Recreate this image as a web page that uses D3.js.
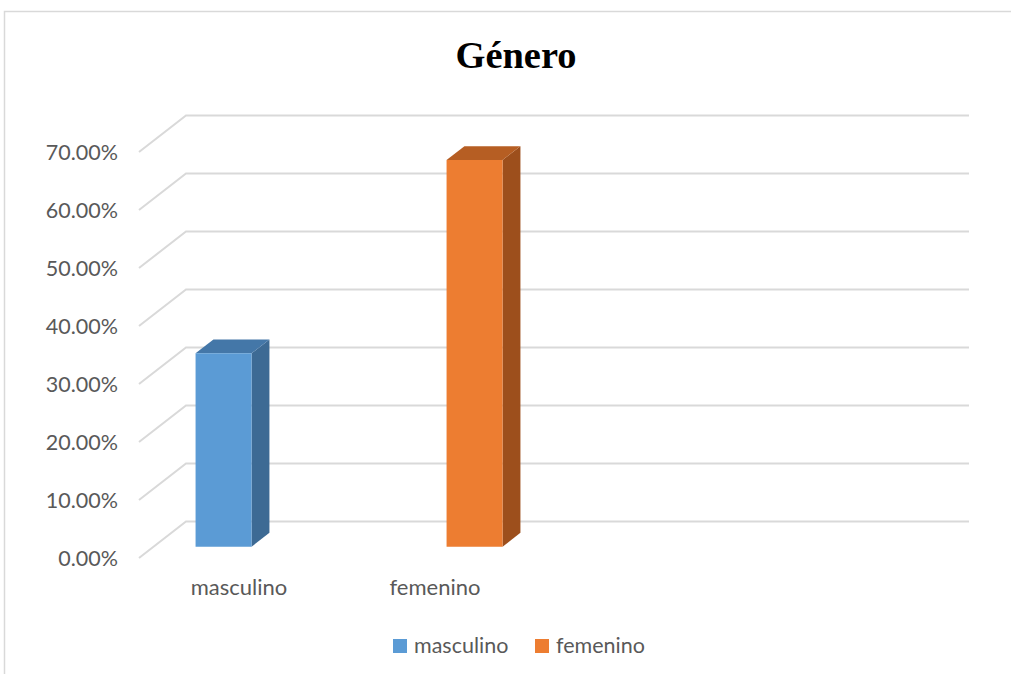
<!DOCTYPE html>
<html>
<head>
<meta charset="utf-8">
<script src="https://cdn.jsdelivr.net/npm/d3@7"></script>
<style>
  html, body { margin: 0; padding: 0; background: #fff; }
  #chart-area { width: 1011px; height: 674px; }
</style>
</head>
<body>
<div id="chart-area"></div>
<script>
// data
const categories = ['masculino', 'femenino'];
const values = [0.3333, 0.6667];
const yTicks = [0, 0.1, 0.2, 0.3, 0.4, 0.5, 0.6, 0.7];
const titleText = 'Género';

const WIDTH = 1011;
const HEIGHT = 674;
const DEPTH = {dx: 47, dy: -36.5};   // floor depth in screen px
const BAR_Z = [0.31, 0.69];          // front and back of bars, fraction of depth
const BAR_W = 56;
const PLOT = {left: 139, right: 922};
const FONT = 'Lato, "Open Sans", sans-serif';

const palette = {
    masculino: {front: '#5b9bd5', top: '#4477a8', side: '#3d6a94'},
    femenino: {front: '#ed7d31', top: '#b65e23', side: '#9d4f1c'}
};

const svg = d3.select('#chart-area').append('svg')
    .attr('width', WIDTH)
    .attr('height', HEIGHT);

// outer frame (only top and left edges show)
svg.append('path')
    .attr('d', `M4.5,${HEIGHT} L4.5,11.5 L${WIDTH},11.5`)
    .attr('fill', 'none')
    .attr('stroke', '#d9d9d9')
    .attr('stroke-width', 1.5);

svg.append('text')
    .attr('x', 516)
    .attr('y', 68)
    .attr('text-anchor', 'middle')
    .attr('font-family', '"Liberation Serif", "Times New Roman", serif')
    .attr('font-weight', 'bold')
    .attr('font-size', '38px')
    .attr('textLength', 121)
    .attr('lengthAdjust', 'spacingAndGlyphs')
    .attr('fill', '#000')
    .text(titleText);

const yScale = d3.scaleLinear()
    .domain([0, 0.7])
    .range([558, 152]);

const xScale = d3.scalePoint()
    .domain(categories)
    .range([209, 460]);

const labelScale = d3.scalePoint()
    .domain(categories)
    .range([239, 435]);

const proj = (x, v, z) => [x + z * DEPTH.dx, yScale(v) + z * DEPTH.dy];

// grid: side wall diagonals + back wall lines
const grid = svg.append('g').attr('class', 'grid');
grid.selectAll('path')
    .data(yTicks)
    .enter().append('path')
    .attr('d', d => {
        const a = proj(PLOT.left, d, 0);
        const b = proj(PLOT.left, d, 1);
        const c = proj(PLOT.right, d, 1);
        return `M${a[0]},${a[1]} L${b[0]},${b[1]} L${c[0]},${c[1]}`;
    })
    .attr('fill', 'none')
    .attr('stroke', '#d9d9d9')
    .attr('stroke-width', 2);

// y tick labels
svg.append('g').selectAll('text')
    .data(yTicks)
    .enter().append('text')
    .attr('x', 118)
    .attr('y', d => yScale(d) + 8)
    .attr('text-anchor', 'end')
    .attr('font-family', FONT)
    .attr('font-size', '21.5px')
    .attr('fill', '#595959')
    .text(d => d3.format('.2%')(d));

// bars
const bars = svg.append('g').attr('class', 'bars')
    .selectAll('g')
    .data(categories.map((c, i) => ({cat: c, value: values[i]})))
    .enter().append('g');

const poly = pts => 'M' + pts.map(p => p.join(',')).join('L') + 'Z';

bars.each(function (d) {
    const g = d3.select(this);
    const x0 = xScale(d.cat) - BAR_W / 2;
    const x1 = x0 + BAR_W;
    const [zf, zb] = BAR_Z;
    const col = palette[d.cat];

    // right side face
    g.append('path')
        .attr('d', poly([proj(x1, 0, zf), proj(x1, d.value, zf), proj(x1, d.value, zb), proj(x1, 0, zb)]))
        .attr('fill', col.side);
    // top face
    g.append('path')
        .attr('d', poly([proj(x0, d.value, zf), proj(x1, d.value, zf), proj(x1, d.value, zb), proj(x0, d.value, zb)]))
        .attr('fill', col.top);
    // front face
    g.append('path')
        .attr('d', poly([proj(x0, 0, zf), proj(x1, 0, zf), proj(x1, d.value, zf), proj(x0, d.value, zf)]))
        .attr('fill', col.front);
});

// category labels
svg.append('g').selectAll('text')
    .data(categories)
    .enter().append('text')
    .attr('x', d => labelScale(d))
    .attr('y', 595)
    .attr('text-anchor', 'middle')
    .attr('font-family', FONT)
    .attr('font-size', '22px')
    .attr('fill', '#595959')
    .text(d => d);

// legend
const legend = svg.append('g')
    .attr('class', 'legend')
    .attr('transform', 'translate(393, 639)');
const legendX = [0, 142];
categories.forEach((c, i) => {
    const row = legend.append('g')
        .attr('transform', `translate(${legendX[i]}, 0)`);
    row.append('rect')
        .attr('width', 14)
        .attr('height', 14)
        .attr('fill', palette[c].front);
    row.append('text')
        .attr('x', 21)
        .attr('y', 14)
        .attr('font-family', FONT)
        .attr('font-size', '21.5px')
        .attr('fill', '#595959')
        .text(c);
});
</script>
</body>
</html>
